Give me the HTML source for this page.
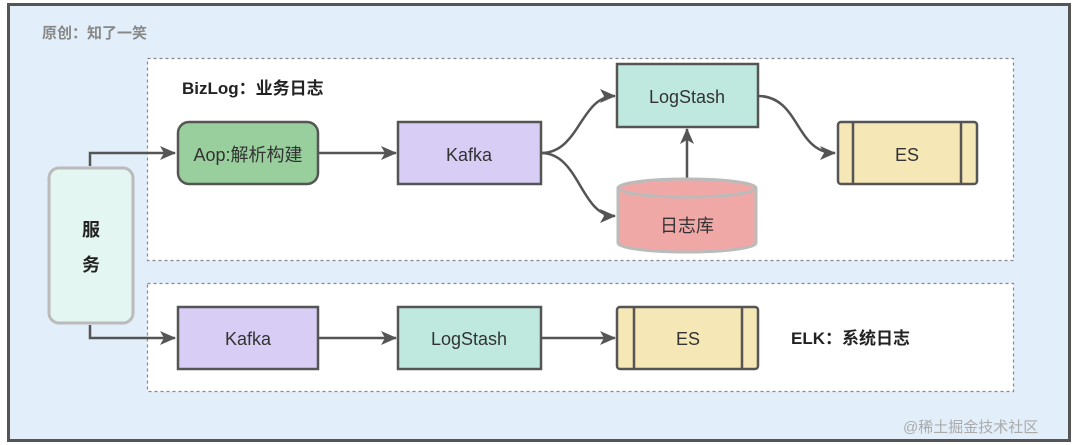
<!DOCTYPE html>
<html><head><meta charset="utf-8"><style>
html,body{margin:0;padding:0;background:#fff;}
svg{display:block;}
text{font-family:"Liberation Sans","Noto Sans CJK SC",sans-serif;fill:#333;}
</style></head><body>
<svg width="1080" height="445" viewBox="0 0 1080 445" xmlns="http://www.w3.org/2000/svg">
<defs>
<marker id="ah" markerWidth="16" markerHeight="14" refX="15" refY="7" orient="auto" markerUnits="userSpaceOnUse">
<path d="M0,0 L16,7 L0,14 L4,7 z" fill="#555"/>
</marker>
</defs>
<rect x="0" y="0" width="1080" height="445" fill="#fff"/>
<rect x="8.5" y="4.5" width="1061" height="436" fill="#e2eef9" stroke="#555" stroke-width="3"/>
<text x="42" y="38" font-size="15" font-weight="bold" style="fill:#888">原创：知了一笑</text>

<rect x="147.5" y="58.5" width="866" height="202" fill="#fff" stroke="#888" stroke-width="1.2" stroke-dasharray="3,3"/>
<rect x="147.5" y="283.5" width="866" height="108" fill="#fff" stroke="#888" stroke-width="1.2" stroke-dasharray="3,3"/>

<text x="182" y="94" font-size="17" font-weight="bold" style="fill:#222">BizLog：业务日志</text>
<text x="791" y="344" font-size="17" font-weight="bold" style="fill:#222">ELK：系统日志</text>
<text x="903" y="432" font-size="15" style="fill:#aaa">@稀土掘金技术社区</text>

<rect x="49" y="168" width="84" height="155" rx="10" fill="#e3f6f1" stroke="#bbb" stroke-width="3"/>
<text x="91" y="236" font-size="18" font-weight="bold" text-anchor="middle" style="fill:#222">服</text>
<text x="91" y="271" font-size="18" font-weight="bold" text-anchor="middle" style="fill:#222">务</text>

<g stroke="#555" stroke-width="2.5" fill="none">
<path d="M90,166 V153 H175" marker-end="url(#ah)"/>
<path d="M90,325 V338 H175" marker-end="url(#ah)"/>
<path d="M318,153 H396" marker-end="url(#ah)"/>
<path d="M541,153 C580,153 580,96 615,96" marker-end="url(#ah)"/>
<path d="M541,153 C580,153 580,216 615,216" marker-end="url(#ah)"/>
<path d="M687,178 V129" marker-end="url(#ah)"/>
<path d="M758,96 C800,96 795,153 835,153" marker-end="url(#ah)"/>
<path d="M318,338 H396" marker-end="url(#ah)"/>
<path d="M541,338 H615" marker-end="url(#ah)"/>
</g>

<rect x="178" y="122" width="140" height="62" rx="11" fill="#98cf9d" stroke="#555" stroke-width="2.5"/>
<text x="248" y="161" font-size="18" text-anchor="middle">Aop:解析构建</text>

<rect x="398" y="122" width="143" height="62" fill="#d8cdf4" stroke="#555" stroke-width="2.5"/>
<text x="469" y="161" font-size="18" text-anchor="middle">Kafka</text>

<rect x="617" y="64" width="141" height="63" fill="#bfe9df" stroke="#555" stroke-width="2.5"/>
<text x="687" y="103" font-size="18" text-anchor="middle">LogStash</text>

<path d="M618,188 V243 A69,9 0 0 0 756,243 V188" fill="#f0a8a7" stroke="#bbb" stroke-width="3"/>
<ellipse cx="687" cy="188" rx="69" ry="9" fill="#f0a8a7" stroke="#bbb" stroke-width="3"/>
<text x="687" y="232" font-size="18" text-anchor="middle">日志库</text>

<rect x="838" y="122" width="139" height="62" rx="3" fill="#f6e7b6" stroke="#555" stroke-width="2.5"/>
<path d="M853,122 V184 M961,122 V184" stroke="#555" stroke-width="2.5"/>
<text x="907" y="161" font-size="18" text-anchor="middle">ES</text>

<rect x="178" y="307" width="140" height="62" fill="#d8cdf4" stroke="#555" stroke-width="2.5"/>
<text x="248" y="345" font-size="18" text-anchor="middle">Kafka</text>

<rect x="398" y="307" width="143" height="62" fill="#bfe9df" stroke="#555" stroke-width="2.5"/>
<text x="469" y="345" font-size="18" text-anchor="middle">LogStash</text>

<rect x="617" y="307" width="141" height="62" rx="3" fill="#f6e7b6" stroke="#555" stroke-width="2.5"/>
<path d="M634,307 V369 M742,307 V369" stroke="#555" stroke-width="2.5"/>
<text x="688" y="345" font-size="18" text-anchor="middle">ES</text>
</svg>
</body></html>
